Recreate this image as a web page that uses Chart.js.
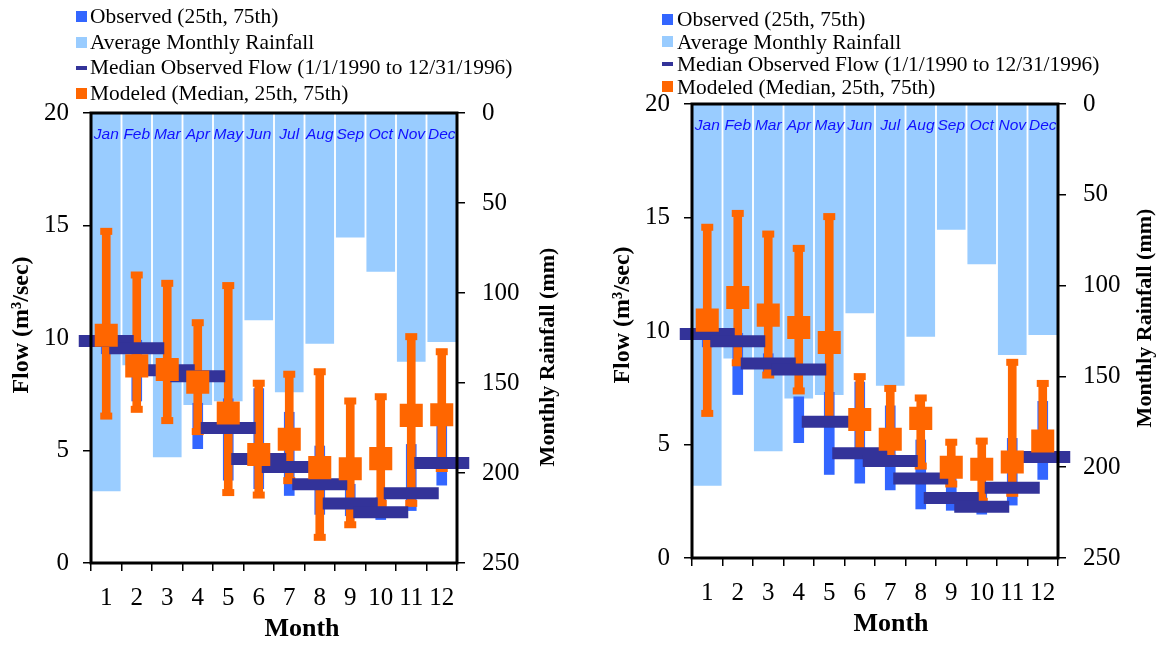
<!DOCTYPE html>
<html>
<head>
<meta charset="utf-8">
<script src="https://cdn.jsdelivr.net/npm/chart.js@4.4.1/dist/chart.umd.min.js"></script>
<style>
  body { margin: 0; background: #fff; }
  #wrap { position: relative; width: 1160px; height: 645px; overflow: hidden; }
  .panel { position: absolute; top: 0; width: 580px; height: 645px; }
  .panel canvas { position: absolute; left: 0; top: 0; }
  .legend { position: absolute; font-family: "Liberation Serif", "Times New Roman", serif; font-size: 21.4px; color: #000; }
  .legend .row { position: relative; white-space: nowrap; }
  .legend .mk { position: absolute; }
</style>
</head>
<body>
<div id="wrap">
  <div class="panel" id="p1" style="left:0"><canvas id="c1" width="580" height="645"></canvas></div>
  <div class="panel" id="p2" style="left:580px"><canvas id="c2" width="580" height="645"></canvas></div>
</div>
<script>
// month categories and labels
var monthNumbers = ['1', '2', '3', '4', '5', '6', '7', '8', '9', '10', '11', '12'];
var monthNames = ['Jan', 'Feb', 'Mar', 'Apr', 'May', 'Jun', 'Jul', 'Aug', 'Sep', 'Oct', 'Nov', 'Dec'];
var flowTicks = [0, 5, 10, 15, 20];
var rainTicks = [0, 50, 100, 150, 200, 250];

// average monthly rainfall (mm), drawn down from the top
var rainfall = [210, 140, 191, 162, 160, 115, 155, 128, 69, 88, 138, 127];

// observed flow, m3/sec
var obsMedian = [9.87, 9.55, 8.57, 8.3, 6.0, 4.62, 4.27, 3.5, 2.64, 2.26, 3.1, 4.45];
var obs25 = [9.3, 7.2, 8.1, 5.08, 3.68, 3.3, 3.0, 2.16, 2.1, 1.93, 2.33, 3.46];
var obs75 = [10.5, 9.9, 9.0, 7.1, 7.3, 7.75, 6.7, 5.2, 3.5, 2.9, 5.27, 6.9];

// modeled flow, left panel
var modelAMedian = [10.12, 8.76, 8.6, 8.04, 6.67, 4.82, 5.5, 4.24, 4.19, 4.64, 6.56, 6.59];
var modelA25 = [6.53, 6.83, 6.33, 5.84, 3.13, 3.02, 3.66, 1.14, 1.7, 2.65, 2.65, 4.2];
var modelA75 = [14.74, 12.8, 12.43, 10.68, 12.33, 7.99, 8.39, 8.5, 7.2, 7.39, 10.06, 9.39];

// modeled flow, right panel
var modelBMedian = [10.48, 11.48, 10.7, 10.15, 9.49, 6.1, 5.23, 6.15, 4.0, 3.91, 4.23, 5.15];
var modelB25 = [6.37, 8.6, 8.06, 7.36, 6.0, 4.7, 4.4, 4.05, 3.26, 2.5, 2.85, 4.6];
var modelB75 = [14.57, 15.18, 14.27, 13.64, 15.04, 7.99, 7.47, 7.05, 5.1, 5.15, 8.62, 7.69];

var LIGHT = '#99ccff', BLUE = '#3366ff', NAVY = '#333399', ORANGE = '#ff6600';
var SERIF = '"Liberation Serif", "Times New Roman", serif';

var legendItems = [
    { text: 'Observed (25th, 75th)', color: BLUE, dash: false },
    { text: 'Average Monthly Rainfall', color: LIGHT, dash: false },
    { text: 'Median Observed Flow (1/1/1990 to 12/31/1996)', color: NAVY, dash: true },
    { text: 'Modeled (Median, 25th, 75th)', color: ORANGE, dash: false }
];

function buildLegend(panelId, g) {
    var box = document.createElement('div');
    box.className = 'legend';
    box.style.left = g.legendLeft + 'px';
    box.style.top = g.legendTop + 'px';
    legendItems.forEach(function (item) {
        var row = document.createElement('div');
        row.className = 'row';
        row.style.height = g.legendRow + 'px';
        row.style.lineHeight = g.legendRow + 'px';
        row.style.paddingLeft = g.legendText + 'px';
        var mk = document.createElement('span');
        mk.className = 'mk';
        mk.style.background = item.color;
        mk.style.left = '0px';
        if (item.dash) {
            mk.style.width = '11px'; mk.style.height = '4px';
            mk.style.top = (g.legendRow / 2 - 2) + 'px';
        } else {
            mk.style.width = '11px'; mk.style.height = '11px';
            mk.style.top = (g.legendRow / 2 - 5.5) + 'px';
        }
        row.appendChild(mk);
        row.appendChild(document.createTextNode(item.text));
        box.appendChild(row);
    });
    document.getElementById(panelId).appendChild(box);
}

// black frame round the plot area
var framePlugin = {
    id: 'frame',
    afterDatasetsDraw: function (chart) {
        var a = chart.chartArea, ctx = chart.ctx;
        ctx.save();
        ctx.strokeStyle = '#000';
        ctx.lineWidth = 3;
        ctx.strokeRect(a.left, a.top, a.right - a.left, a.bottom - a.top);
        ctx.restore();
    }
};

// month names on the rainfall bars and the three axis titles
var textPlugin = {
    id: 'panelText',
    afterDraw: function (chart, args, opts) {
        var ctx = chart.ctx, a = chart.chartArea, xs = chart.scales.x;
        var midY = (a.top + a.bottom) / 2;
        ctx.save();
        ctx.textAlign = 'center';
        ctx.textBaseline = 'middle';
        ctx.font = 'italic 15.5px "Liberation Sans", Arial, sans-serif';
        ctx.fillStyle = '#1010ff';
        monthNames.forEach(function (n, i) {
            ctx.fillText(n, xs.getPixelForValue(i), a.top + 22);
        });
        ctx.fillStyle = '#000';
        ctx.font = 'bold 26px ' + SERIF;
        ctx.fillText('Month', (a.left + a.right) / 2 + opts.xTitleDX, a.bottom + 66);

        ctx.save();
        ctx.font = 'bold 24px ' + SERIF;
        ctx.translate(a.left - 69, midY + opts.leftTitleDY);
        ctx.rotate(-Math.PI / 2);
        ctx.fillText('Flow (m³/sec)', 0, 0);
        ctx.restore();

        ctx.font = 'bold 22px ' + SERIF;
        ctx.translate(a.right + opts.rightTitleDX, midY + opts.rightTitleDY);
        ctx.rotate(-Math.PI / 2);
        ctx.fillText('Monthly Rainfall (mm)', 0, 0);
        ctx.restore();
    }
};

function pairs(lo, hi) {
    return lo.map(function (v, i) { return [v, hi[i]]; });
}

function buildChart(canvasId, med, lo, hi, g) {
    var ctx = document.getElementById(canvasId);
    return new Chart(ctx, {
        type: 'bar',
        data: {
            labels: monthNumbers,
            datasets: [
                { type: 'line', label: 'Modeled median', data: med, showLine: false, pointStyle: 'rect',
                  pointRadius: 16.3, pointHoverRadius: 16.3, pointBackgroundColor: ORANGE, pointBorderWidth: 0,
                  borderColor: ORANGE, yAxisID: 'y', order: 0 },
                { type: 'line', label: 'Median observed', data: obsMedian, showLine: false, pointStyle: 'line',
                  pointRadius: 27.5, pointHoverRadius: 27.5, pointBorderWidth: 12, pointBorderColor: NAVY,
                  borderColor: NAVY, yAxisID: 'y', clip: false, order: 1 },
                { type: 'line', label: 'Modeled 25th', data: lo, showLine: false, pointStyle: 'line',
                  pointRadius: 6, pointHoverRadius: 6, pointBorderWidth: 7, pointBorderColor: ORANGE,
                  borderColor: ORANGE, yAxisID: 'y', order: 2 },
                { type: 'line', label: 'Modeled 75th', data: hi, showLine: false, pointStyle: 'line',
                  pointRadius: 6, pointHoverRadius: 6, pointBorderWidth: 7, pointBorderColor: ORANGE,
                  borderColor: ORANGE, yAxisID: 'y', order: 2 },
                { type: 'bar', label: 'Modeled range', data: pairs(lo, hi), backgroundColor: ORANGE,
                  barThickness: 8, grouped: false, yAxisID: 'y', order: 3 },
                { type: 'bar', label: 'Observed (25th, 75th)', data: pairs(obs25, obs75), backgroundColor: BLUE,
                  barThickness: 10, grouped: false, yAxisID: 'y', order: 4 },
                { type: 'bar', label: 'Average Monthly Rainfall', data: rainfall, backgroundColor: LIGHT,
                  barThickness: 28, grouped: false, yAxisID: 'y1', order: 5 }
            ]
        },
        options: {
            responsive: false,
            animation: false,
            devicePixelRatio: 1,
            events: [],
            layout: { padding: { top: g.top, left: g.padLeft, right: 0, bottom: 0 } },
            plugins: {
                legend: { display: false },
                tooltip: { enabled: false },
                panelText: { xTitleDX: g.xTitleDX, leftTitleDY: g.leftTitleDY,
                             rightTitleDX: g.rightTitleDX, rightTitleDY: g.rightTitleDY }
            },
            scales: {
                x: {
                    offset: true,
                    grid: { offset: true, drawOnChartArea: false, drawTicks: true, tickLength: 8, color: '#000', lineWidth: 1.5 },
                    border: { display: false },
                    ticks: { color: '#000', font: { family: SERIF, size: 25 }, padding: 12, maxRotation: 0, autoSkip: false },
                    afterFit: function (s) { s.height = 645 - g.bottom; }
                },
                y: {
                    position: 'left', min: 0, max: 20,
                    afterBuildTicks: function (s) { s.ticks = flowTicks.map(function (v) { return { value: v }; }); },
                    grid: { drawOnChartArea: false, drawTicks: true, tickLength: 8, color: '#000', lineWidth: 1.5 },
                    border: { display: false },
                    ticks: { color: '#000', font: { family: SERIF, size: 25 }, padding: 14 },
                    afterFit: function (s) { s.width = 91; }
                },
                y1: {
                    position: 'right', min: 0, max: 250, reverse: true,
                    afterBuildTicks: function (s) { s.ticks = rainTicks.map(function (v) { return { value: v }; }); },
                    grid: { drawOnChartArea: false, drawTicks: true, tickLength: 8, color: '#000', lineWidth: 1.5 },
                    border: { display: false },
                    ticks: { color: '#000', font: { family: SERIF, size: 25 }, padding: 17 },
                    afterFit: function (s) { s.width = 580 - g.right; }
                }
            }
        },
        plugins: [framePlugin, textPlugin]
    });
}

var leftGeo = { top: 113, bottom: 563, right: 457, padLeft: 0, xTitleDX: 28, leftTitleDY: -13,
                rightTitleDX: 91, rightTitleDY: 19,
                legendLeft: 76, legendTop: 4, legendRow: 25.5, legendText: 14 };
var rightGeo = { top: 104, bottom: 558, right: 478, padLeft: 21, xTitleDX: 16, leftTitleDY: -16,
                 rightTitleDX: 87, rightTitleDY: -13,
                 legendLeft: 82, legendTop: 8, legendRow: 22.5, legendText: 15 };

buildChart('c1', modelAMedian, modelA25, modelA75, leftGeo);
buildChart('c2', modelBMedian, modelB25, modelB75, rightGeo);
buildLegend('p1', leftGeo);
buildLegend('p2', rightGeo);
</script>
</body>
</html>
